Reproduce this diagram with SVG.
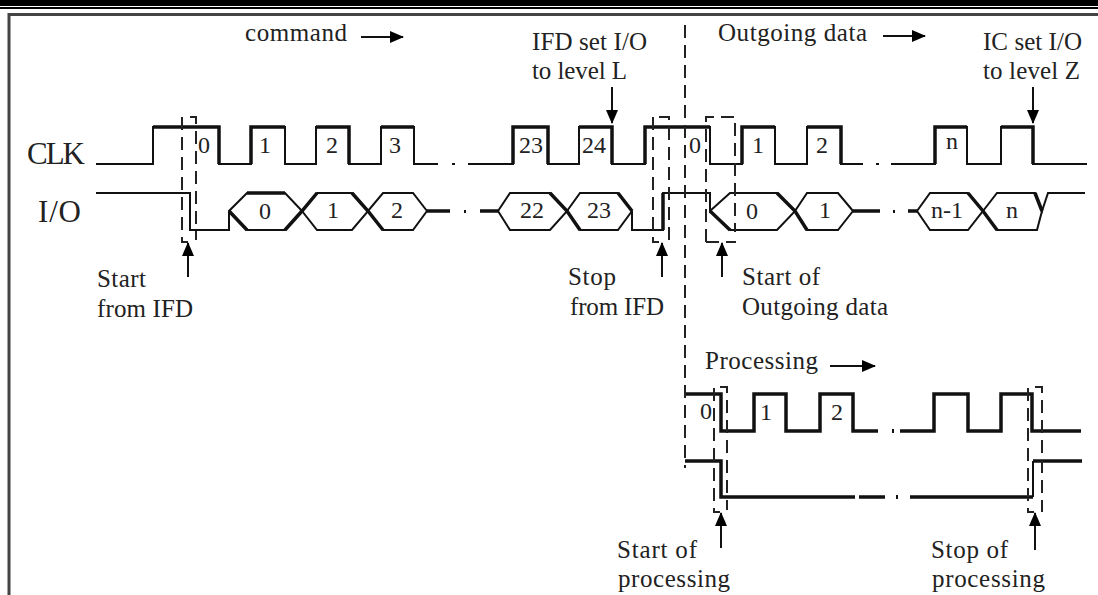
<svg xmlns="http://www.w3.org/2000/svg" width="1098" height="595" viewBox="0 0 1098 595">
<defs>
<marker id="ah" viewBox="0 0 14 12" refX="13" refY="6" markerWidth="14" markerHeight="12" markerUnits="userSpaceOnUse" orient="auto"><path d="M0 0L14 6L0 12Z" fill="#000"/></marker>
</defs>
<style>
text{font-family:"Liberation Serif","Times New Roman",serif;fill:#222;font-size:25px}
.lg{font-size:31px}
.n{font-size:24px;text-anchor:middle}
.w{fill:none;stroke:#111;stroke-width:2}
.t{fill:none;stroke:#111;stroke-width:3.5}
.d{fill:none;stroke:#222;stroke-width:2;stroke-dasharray:13 7}
.a{fill:none;stroke:#111;stroke-width:2;marker-end:url(#ah)}
</style>
<rect width="1098" height="595" fill="#fff"/>
<rect x="0" y="0" width="1098" height="6" fill="#000"/>
<rect x="0" y="7" width="1098" height="2" fill="#000"/>
<path d="M9 595V14.500H1098" fill="none" stroke="#444" stroke-width="3"/>
<g id="connectors">
<path class="w" d="M96 164H153V127H219V164H251V127H285V164H316V127H349V164H381V127H414V164H438"/>
<path class="t" d="M153 127H219V164M251 164V127H285M316 127H349V164M381 127H414"/>
<path class="w" d="M468 164H513V127H548V164H579V127H612V164H645V127H710V164H742V127H775V164H807V127H841V164H863"/>
<path class="t" d="M513 164V127H548V164M579 127H612V164M645 164V127H710M742 164V127H775M807 127H841V164"/>
<path class="w" d="M891 164H935V127H967V164H1001V127H1033V164H1087"/>
<path class="t" d="M935 164V127H967M1001 127H1033V164"/>
<path class="w" d="M96 193H190V230H229V211L247 193H285L302 211L317 193H352L368 211L383 193H413L427 211"/>
<path class="w" d="M229 211L247 230H285L302 211L317 230H352L368 211L383 230H413L427 211"/>
<path class="t" d="M229 211L247 230M247 193H285M285 230L302 211L317 193M352 193L368 211L383 230M427 211H450"/>
<path class="w" d="M498 211L510 193H550L567 211L580 193H618L632 211V230H663V193H710V211L730 193H777L795 211L807 193H838L853 211"/>
<path class="w" d="M498 211L510 230H550L567 211L580 230H618L632 211M710 211L730 230H777L795 211L807 230H838L853 211"/>
<path class="t" d="M480 211H498M550 193L567 211L580 230M618 193L632 211M663 230V193M710 211L730 230M777 193L795 211L807 230M853 211H880"/>
<path class="w" d="M917 211L930 193H968L983 211L997 193H1035L1042 211L1048 193H1085"/>
<path class="w" d="M917 211L930 230H968L983 211L997 230H1037L1042 211"/>
<path class="t" d="M908 211H917M968 193L983 211L997 230M1035 193L1042 211"/>
<path class="t" d="M685 394H721V431H754V394H786V431H820V394H853V431H878"/>
<path class="t" d="M900 431H934V394H968V431H1001V394H1032V431H1081"/>
<path class="t" d="M685 461H721V497H855M859 497H885M910 497H1033"/>
<path class="w" d="M1033 497V461"/><path class="t" d="M1033 461H1082"/>
<path class="d" d="M685 25V468"/>
<path class="d" d="M182 117V242H188M190 117H196V240"/>
<path class="d" d="M653 117V242H659M659 117H669V242"/>
<path class="d" d="M706 242V117H735V232M706 242H736"/>
<path class="d" d="M714 388V512H720M720 387H727V510"/>
<path class="d" d="M1028 388V512H1034M1035 387H1042V512"/>
<path class="a" d="M188 277V243"/><path class="a" d="M662 277V243"/><path class="a" d="M722 277V243"/>
<path class="a" d="M612 87V123"/><path class="a" d="M1033 87V123"/>
<path class="a" d="M721 548V513"/><path class="a" d="M1035 550V513"/>
<path class="a" d="M361 37H403"/><path class="a" d="M883 36H925"/><path class="a" d="M830 366H875"/>
</g>
<g id="labels">
<text x="245" y="41" textLength="102">command</text>
<text x="718" y="41" textLength="149">Outgoing data</text>
<text x="705" y="369" textLength="113">Processing</text>
<text x="532" y="50" textLength="115">IFD set I/O</text><text x="532" y="79" textLength="95">to level L</text>
<text x="983" y="50" textLength="99">IC set I/O</text><text x="983" y="79" textLength="97">to level Z</text>
<text class="lg" x="27" y="164" textLength="58">CLK</text><text class="lg" x="38" y="222" textLength="43">I/O</text>
<text x="97" y="287" textLength="49">Start</text><text x="97" y="317" textLength="96">from IFD</text>
<text x="568" y="285" textLength="48">Stop</text><text x="570" y="315" textLength="94">from IFD</text>
<text x="742" y="285" textLength="78">Start of</text><text x="742" y="315" textLength="146">Outgoing data</text>
<text x="617" y="558" textLength="80">Start of</text><text x="618" y="587" textLength="112">processing</text>
<text x="931" y="558" textLength="77">Stop of</text><text x="932" y="587" textLength="113">processing</text>
<text class="n" x="204" y="153">0</text><text class="n" x="265" y="153">1</text><text class="n" x="332" y="153">2</text><text class="n" x="395" y="153">3</text>
<text class="n" x="531" y="153">23</text><text class="n" x="594" y="153">24</text><text class="n" x="695" y="153">0</text><text class="n" x="758" y="153">1</text><text class="n" x="822" y="153">2</text><text class="n" x="952" y="149">n</text>
<text class="n" x="265" y="219">0</text><text class="n" x="333" y="218">1</text><text class="n" x="397" y="218">2</text><text class="n" x="532" y="218">22</text><text class="n" x="599" y="218">23</text><text class="n" x="752" y="219">0</text><text class="n" x="825" y="218">1</text><text class="n" x="947" y="218">n-1</text><text class="n" x="1012" y="218">n</text>
<text class="n" x="706" y="419">0</text><text class="n" x="766" y="420">1</text><text class="n" x="837" y="420">2</text>
</g>
<g id="gap-dots" fill="#111"><rect x="452" y="163" width="3" height="2"/><rect x="876" y="163" width="3" height="2"/><rect x="464" y="210" width="2" height="3"/><rect x="893" y="210" width="2" height="3"/><rect x="892" y="429" width="2" height="4"/><rect x="896" y="495" width="2" height="4"/></g>
</svg>
